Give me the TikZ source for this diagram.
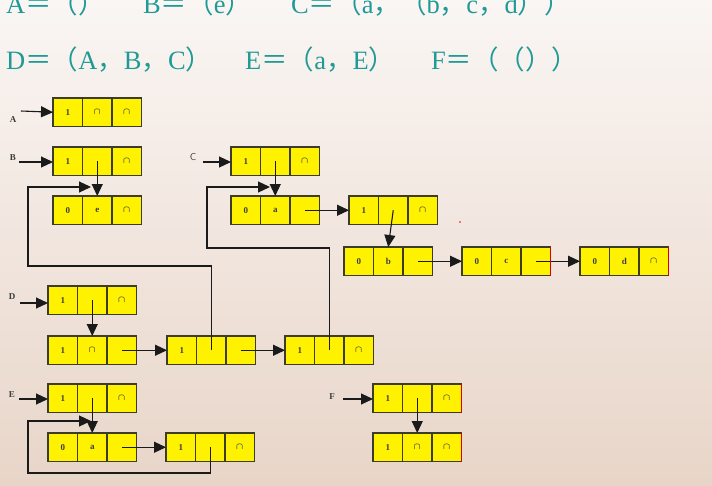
\documentclass[tikz,border=0pt]{standalone}
\usepackage{fontspec}
\usepackage{amsmath}
\setmainfont{Liberation Serif}
\newfontfamily\cjk{Noto Sans CJK SC}
\usetikzlibrary{arrows.meta,calc}
\definecolor{bgtop}{HTML}{FAF6F4}
\definecolor{bgbot}{HTML}{E8D5C8}
\definecolor{teal}{HTML}{1F9A96}
\definecolor{cellborder}{HTML}{3C3C28}
\definecolor{ink}{HTML}{1A1A1A}
\tikzset{
  cell/.style={draw=cellborder, fill=yellow, line width=1.1pt, minimum width=29.5pt, minimum height=28.5pt,
    inner sep=0pt, outer sep=0pt, font=\fontsize{9}{10}\selectfont\bfseries, text=ink!85},
  arr/.style={draw=ink, line width=1.1pt, -{Triangle[length=12pt,width=11pt]}},
  lbl/.style={font=\fontsize{9}{10}\selectfont\bfseries, text=ink!85, inner sep=0pt},
  head/.style={font=\fontsize{26.5}{28}\selectfont, text=teal, inner sep=0pt, anchor=base west},
  redge/.style={draw=red!85!black, line width=1.3pt}
}
\newcommand{\lnode}[6]{%
  \node[cell, anchor=north west] (#1-1) at (#2,#3) {#4};
  \node[cell, anchor=west] (#1-2) at (#1-1.east) {#5};
  \node[cell, anchor=west] (#1-3) at (#1-2.east) {#6};
}
\newcommand{\nil}{\raisebox{0.3pt}{$\boldsymbol{\cap}$}}
\begin{document}
\begin{tikzpicture}[x=1pt,y=-1pt]
\useasboundingbox (0,0) rectangle (712,485);
\shade[top color=bgtop, bottom color=bgbot] (0,0) rectangle (712,485);

% headings
\node[head] (h1) at (6,13) {A{\cjk ＝（）}};
\node[head] (h2) at (143,13) {B{\cjk ＝（}e{\cjk ）}};
\node[head] (h3) at (291,13) {C{\cjk ＝（}a{\cjk ，（}b{\cjk ，}c{\cjk ，}d{\cjk ））}};
\node[head] (h4) at (6,69) {D{\cjk ＝（}A{\cjk ，}B{\cjk ，}C{\cjk ）}};
\node[head] (h5) at (245,69) {E{\cjk ＝（}a{\cjk ，}E{\cjk ）}};
\node[head] (h6) at (431,69) {F{\cjk ＝（（））}};

% A
\lnode{A}{53}{98}{1}{\nil}{\nil}
\node[lbl] (lA) at (13,120) {A};
\coordinate (Ain) at (21,111);
\draw[arr] (Ain) -- (A-1.west);

% B
\lnode{B}{53}{147}{1}{}{\nil}
\lnode{Bs}{53}{196}{0}{e}{\nil}
\node[lbl] (lB) at (13,158) {B};
\coordinate (Bin) at (19,162);
\draw[arr] (Bin) -- (B-1.west |- Bin);
\draw[arr] (B-2.center) -- (Bs-2.north);

% C
\lnode{C}{231}{147}{1}{}{\nil}
\lnode{Cs}{231}{196}{0}{a}{}
\lnode{Cx}{349}{196}{1}{}{\nil}
\lnode{Cb}{344}{247}{0}{b}{}
\lnode{Cc}{462}{247}{0}{c}{}
\lnode{Cd}{580}{247}{0}{d}{\nil}
\node[lbl,font=\sffamily\fontsize{10}{11}\selectfont] (lC) at (193,157) {C};
\coordinate (Cin) at (203,162);
\draw[arr] (Cin) -- (C-1.west |- Cin);
\draw[arr] (C-2.center) -- (Cs-2.north);
\draw[arr] (Cs-3.center) -- (Cx-1.west);
\draw[arr] (Cx-2.center) -- (Cb-2.north);
\draw[arr] (Cb-3.center) -- (Cc-1.west);
\draw[arr] (Cc-3.center) -- (Cd-1.west);
\draw[redge] (Cc-3.north east) -- (Cc-3.south east);
\draw[redge] (Cd-3.north east) -- (Cd-3.south east);
\fill[red] (460,222) circle (0.8);

% D
\lnode{D}{48}{286}{1}{}{\nil}
\lnode{Da}{48}{336}{1}{\nil}{}
\lnode{Db}{167}{336}{1}{}{}
\lnode{Dc}{285}{336}{1}{}{\nil}
\node[lbl] (lD) at (12,297) {D};
\coordinate (Din) at (20,303);
\draw[arr] (Din) -- (D-1.west |- Din);
\draw[arr] (D-2.center) -- (Da-2.north);
\draw[arr] (Da-3.center) -- (Db-1.west);
\draw[arr] (Db-3.center) -- (Dc-1.west);
\coordinate (bTurn) at (28,266);
\coordinate (bEnd) at (91,187);
\draw[arr] (Db-2.center) |- (bTurn) |- (bEnd);
\coordinate (cTurn) at (207,248);
\coordinate (cEnd) at (270,187);
\draw[arr] (Dc-2.center) |- (cTurn) |- (cEnd);

% E
\lnode{E}{48}{384}{1}{}{\nil}
\lnode{Ea}{48}{433}{0}{a}{}
\lnode{Eb}{166}{433}{1}{}{\nil}
\node[lbl] (lE) at (12,395) {E};
\coordinate (Ein) at (19,399);
\draw[arr] (Ein) -- (E-1.west |- Ein);
\draw[arr] (E-2.center) -- (Ea-2.north);
\draw[arr] (Ea-3.center) -- (Eb-1.west);
\coordinate (eTurn) at (28,473);
\coordinate (eEnd) at (91,421);
\draw[arr] (Eb-2.center) |- (eTurn) |- (eEnd);

% F
\lnode{F}{373}{384}{1}{}{\nil}
\lnode{Fa}{373}{433}{1}{\nil}{\nil}
\node[lbl] (lF) at (332,397) {F};
\coordinate (Fin) at (343,399);
\draw[arr] (Fin) -- (F-1.west |- Fin);
\draw[arr] (F-2.center) -- (Fa-2.north);
\draw[redge] (F-3.north east) -- (F-3.south east);
\draw[redge] (Fa-3.north east) -- (Fa-3.south east);
\end{tikzpicture}
\end{document}
